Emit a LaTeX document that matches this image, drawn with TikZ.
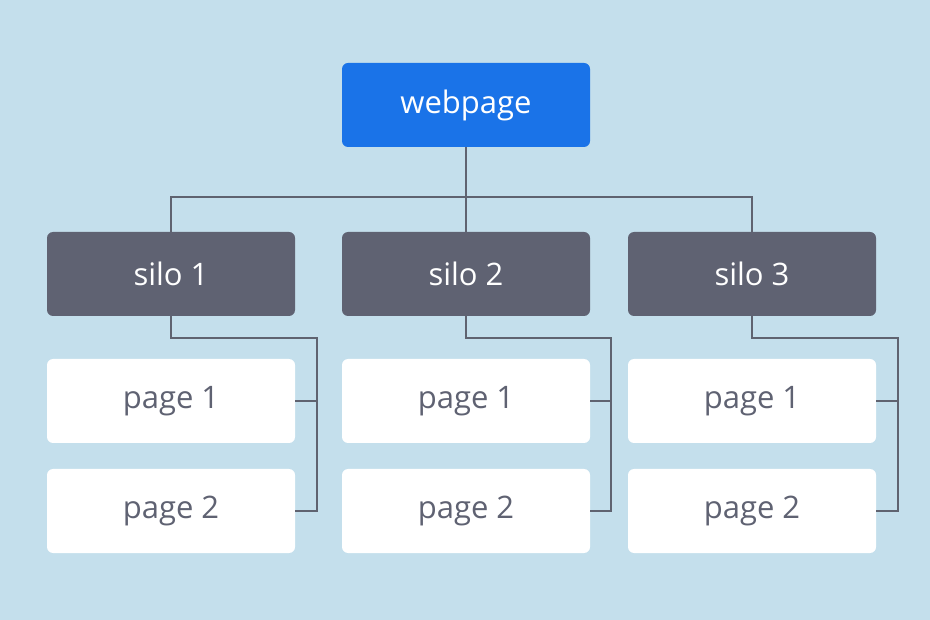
\documentclass[tikz,border=0pt]{standalone}
\usepackage{fontspec}
\setmainfont{Open Sans}
\definecolor{bg}{HTML}{C4DFEC}
\definecolor{webblue}{HTML}{1A73E8}
\definecolor{silogray}{HTML}{5F6272}
\definecolor{linegray}{HTML}{5F6370}
\begin{document}
\begin{tikzpicture}[x=1pt,y=-1pt,
  box/.style={rounded corners=6pt, minimum width=248pt, minimum height=84pt, inner sep=0pt,
    font=\fontsize{31}{34}\selectfont},
  webbox/.style={box, fill=webblue, text=white},
  silobox/.style={box, fill=silogray, text=white},
  pagebox/.style={box, fill=white, text=silogray},
  conn/.style={draw=linegray, line width=1.5pt}]
\fill[bg] (0,0) rectangle (930,620);
\useasboundingbox (0,0) rectangle (930,620);
\node[webbox] (web) at (466,105) {webpage};
\node[silobox] (s1) at (171,274) {silo 1};
\node[silobox] (s2) at (466,274) {silo 2};
\node[silobox] (s3) at (752,274) {silo 3};
\node[pagebox] (p11) at (171,401) {page 1};
\node[pagebox] (p12) at (171,511) {page 2};
\node[pagebox] (p21) at (466,401) {page 1};
\node[pagebox] (p22) at (466,511) {page 2};
\node[pagebox] (p31) at (752,401) {page 1};
\node[pagebox] (p32) at (752,511) {page 2};
\coordinate (bus) at (466,197);
\draw[conn] (web.south) -- (bus);
\draw[conn] (s1.north) |- (bus) -| (s3.north);
\draw[conn] (bus) -- (s2.north);
\coordinate (r1) at (317,338);
\coordinate (r2) at (611,338);
\coordinate (r3) at (898,338);
\draw[conn] (s1.south) |- (r1) |- (p12.east);
\draw[conn] (p11.east) -- (p11.east -| r1);
\draw[conn] (s2.south) |- (r2) |- (p22.east);
\draw[conn] (p21.east) -- (p21.east -| r2);
\draw[conn] (s3.south) |- (r3) |- (p32.east);
\draw[conn] (p31.east) -- (p31.east -| r3);
\end{tikzpicture}
\end{document}
